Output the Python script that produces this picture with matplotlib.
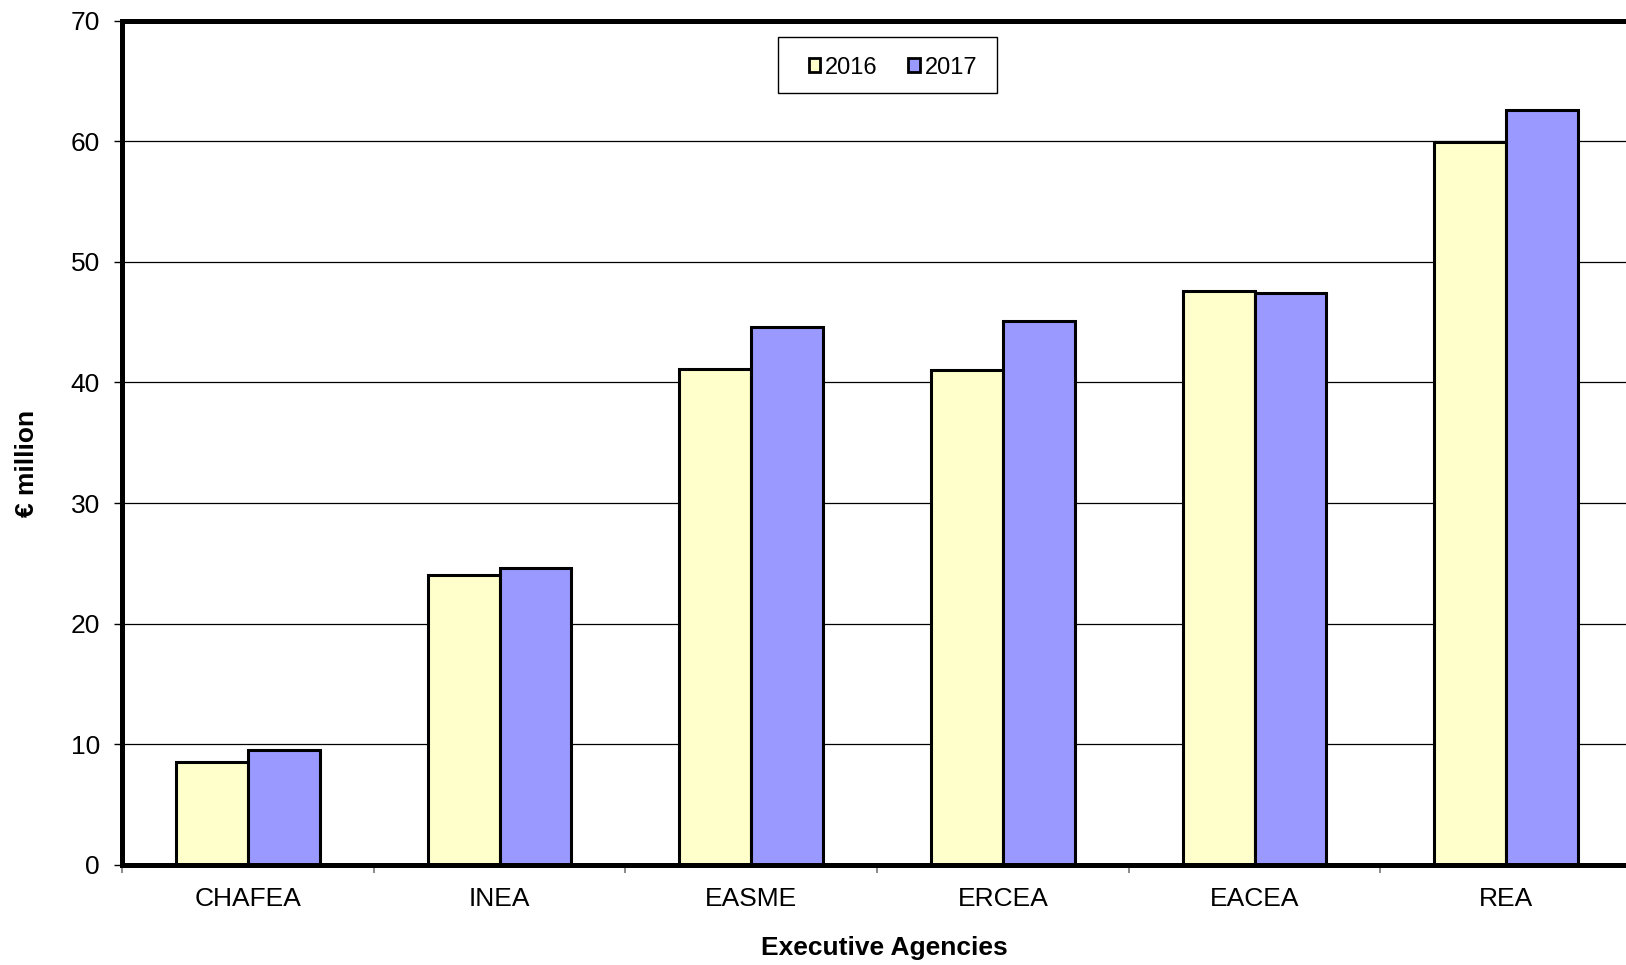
import matplotlib
matplotlib.use("Agg")
import matplotlib.pyplot as plt
from matplotlib.patches import Rectangle
import numpy as np

plt.rcParams['font.family'] = ['Liberation Sans', 'DejaVu Sans']

categories = ["CHAFEA", "INEA", "EASME", "ERCEA", "EACEA", "REA"]
values_2016 = [8.5, 24.0, 41.1, 41.0, 47.6, 59.9]
values_2017 = [9.5, 24.6, 44.6, 45.1, 47.4, 62.6]
series_labels = ["2016", "2017"]
yticks = [0, 10, 20, 30, 40, 50, 60, 70]

W, H = 1626, 965
fig = plt.figure(figsize=(W/100, H/100), dpi=100)
ax = fig.add_axes([122/W, 100/H, 1510/W, 844.5/H])

x = np.arange(len(categories)) + 0.5
w = 0.286
ax.bar(x - w/2, values_2016, w, color="#FFFFCC", edgecolor="black", linewidth=2.2,
       label=series_labels[0], zorder=3)
ax.bar(x + w/2, values_2017, w, color="#9999FF", edgecolor="black", linewidth=2.2,
       label=series_labels[1], zorder=3)

ax.set_xlim(0, len(categories))
ax.set_ylim(0, 70)
ax.set_yticks(yticks)
ax.set_yticklabels([str(t) for t in yticks], fontsize=19)
ax.tick_params(axis='y', direction='out', length=6, width=1, pad=10, colors='black')

ax.set_xticks(np.arange(len(categories) + 1))
ax.set_xticklabels([])
ax.tick_params(axis='x', which='major', direction='out', length=6, width=1.2, color='#777777')
ax.set_xticks(x, minor=True)
ax.set_xticklabels(categories, minor=True, fontsize=19)
ax.tick_params(axis='x', which='minor', length=0, pad=16)

ax.grid(axis='y', color='black', linewidth=0.9, zorder=0)
ax.set_axisbelow(True)
for s in ax.spines.values():
    s.set_linewidth(3.6)
    s.set_color('black')
    s.set_zorder(4)

fig.text(884/W, 1 - 948/H, "Executive Agencies", ha='center', va='center',
         fontsize=19, fontweight='bold')
fig.text(27/W, 1 - 463/H, "€ million", ha='center', va='center',
         rotation=90, fontsize=19, fontweight='bold')

# legend frame drawn as a rectangle, legend contents without frame
frame = Rectangle((778/W, 1 - 92.7/H), (997 - 778)/W, (92.7 - 36.7)/H,
                  transform=fig.transFigure, facecolor='white',
                  edgecolor='black', linewidth=1.0, zorder=5, clip_on=False)
ax.add_patch(frame)
leg = ax.legend(loc='center', bbox_to_anchor=(893/W, 1 - 67.5/H),
                bbox_transform=fig.transFigure, ncol=2, fontsize=17,
                frameon=False, handlelength=0.5, handleheight=0.5,
                handletextpad=0.2, columnspacing=1.3, borderpad=0, borderaxespad=0)
leg.set_zorder(6)
for h in leg.legend_handles:
    h.set_linewidth(2.0)

fig.savefig("out.png", dpi=100)
